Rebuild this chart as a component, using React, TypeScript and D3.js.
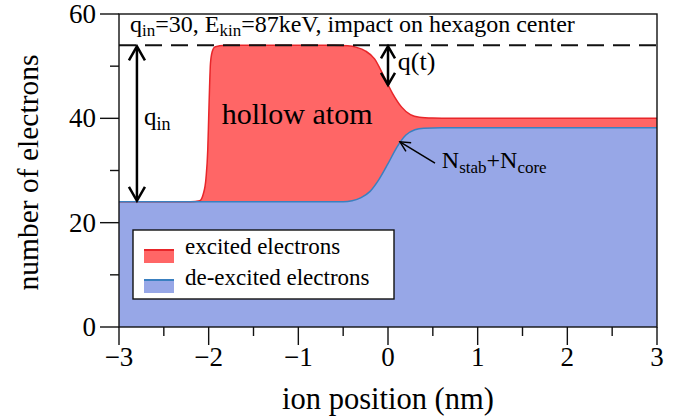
import React from "react";
import * as d3 from "d3";

const width = 688;
const height = 418;
const margin = { top: 14, right: 31, bottom: 91, left: 119 };

// ion position (nm) sample points and electron counts
const redPos = [-3, -2.2, -2.1, -2.06, -2.03, -2.01, -2.0, -1.99, -1.98, -1.96, -1.93, -1.88, -1.8, -0.6, -0.45, -0.35, -0.25, -0.15, -0.05, 0.05, 0.15, 0.25, 0.35, 0.5, 0.7, 3];
const redVals = [24, 24, 24.2, 25.5, 28.5, 34, 40, 46, 50.5, 52.8, 53.7, 53.9, 54, 54, 53.9, 53.6, 52.9, 51.4, 48.2, 44.8, 42.2, 40.7, 40.2, 40.05, 40, 40];

const bluePos = [-3, -0.5, -0.4, -0.3, -0.2, -0.1, 0, 0.1, 0.2, 0.3, 0.4, 0.6, 3];
const blueVals = [24, 24, 24.2, 24.8, 26, 28.3, 31.3, 34.5, 36.8, 37.8, 38.1, 38.2, 38.2];

const qIn = 54;
const qStart = 24;

const xMajor = [-3, -2, -1, 0, 1, 2, 3];
const xMinor = [-2.5, -1.5, -0.5, 0.5, 1.5, 2.5];
const yMajor = [0, 20, 40, 60];
const yMinor = [10, 30, 50];

const redFill = "#ff6666";
const redLine = "#e8262a";
const blueFill = "#97a7e7";
const blueLine = "#3a80c0";

const x = d3.scaleLinear().domain([-3, 3]).range([margin.left, width - margin.right]);
const y = d3.scaleLinear().domain([0, 60]).range([height - margin.bottom, margin.top]);

const redData = redPos.map((p, i) => ({ p, v: redVals[i] }));
const blueData = bluePos.map((p, i) => ({ p, v: blueVals[i] }));

const area = d3.area<{ p: number; v: number }>()
  .x(d => x(d.p)).y0(y(0)).y1(d => y(d.v)).curve(d3.curveMonotoneX);
const line = d3.line<{ p: number; v: number }>()
  .x(d => x(d.p)).y(d => y(d.v)).curve(d3.curveMonotoneX);

// chevron head at (tx,ty) pointing away from (fx,fy)
function head(tx: number, ty: number, fx: number, fy: number, len: number, half: number) {
  const a = Math.atan2(ty - fy, tx - fx);
  const bx = tx - len * Math.cos(a), by = ty - len * Math.sin(a);
  const nx = -Math.sin(a) * half, ny = Math.cos(a) * half;
  return `M${bx + nx},${by + ny}L${tx},${ty}L${bx - nx},${by - ny}`;
}

function T(props: any) {
  const { style, ...rest } = props;
  return <text fontFamily="Liberation Serif" style={{ fontFamily: "'Liberation Serif'", ...style }} {...rest} />;
}

export default function App() {
  const x0 = x(-3), x1 = x(3), yb = y(0), yt = y(60);
  const ax = x(-2.8);
  const qx = x(0);
  const nFrom = [x(0.524), y(31.4)];
  const nTo = [x(0.134), y(35.5)];
  const lg = { x: 133, y: 230, w: 261, h: 69 };

  return (
    <svg width={width} height={height} style={{ position: "absolute", left: 0, top: 0 }}>
      <style>{"text, tspan { font-family: 'Liberation Serif' !important; }"}</style>
      <defs>
        <clipPath id="plot"><rect x={x0} y={yt} width={x1 - x0} height={yb - yt} /></clipPath>
      </defs>
      <g clipPath="url(#plot)">
        <path d={area(redData) ?? ""} fill={redFill} />
        <path d={area(blueData) ?? ""} fill={blueFill} />
        <path d={line(redData) ?? ""} fill="none" stroke={redLine} strokeWidth={1.5} />
        <path d={line(blueData) ?? ""} fill="none" stroke={blueLine} strokeWidth={1.5} />
        <line x1={x0} x2={x1} y1={y(qIn)} y2={y(qIn)} stroke="#111" strokeWidth={2} strokeDasharray="17 9" />
      </g>

      {/* frame */}
      <rect x={x0} y={yt} width={x1 - x0} height={yb - yt} fill="none" stroke="#111" strokeWidth={1.4} />

      {/* x axis */}
      {xMajor.map(t => (
        <g key={"xm" + t}>
          <line x1={x(t)} x2={x(t)} y1={yb} y2={yb + 18} stroke="#111" strokeWidth={1.4} />
          <T x={x(t)} y={yb + 39} fontSize={27} textAnchor="middle">{t < 0 ? "\u2212" + Math.abs(t) : t}</T>
        </g>
      ))}
      {xMinor.map(t => (
        <line key={"xn" + t} x1={x(t)} x2={x(t)} y1={yb} y2={yb + 9} stroke="#111" strokeWidth={1.4} />
      ))}
      <T x={(x0 + x1) / 2} y={height - 9} fontSize={30.5} textAnchor="middle">ion position (nm)</T>

      {/* y axis */}
      {yMajor.map(t => (
        <g key={"ym" + t}>
          <line x1={x0 - 19} x2={x0} y1={y(t)} y2={y(t)} stroke="#111" strokeWidth={1.4} />
          <T x={x0 - 23} y={y(t) + 9} fontSize={27} textAnchor="end">{t}</T>
        </g>
      ))}
      {yMinor.map(t => (
        <line key={"yn" + t} x1={x0 - 9} x2={x0} y1={y(t)} y2={y(t)} stroke="#111" strokeWidth={1.4} />
      ))}
      <T transform={`translate(38,${(yt + yb) / 2 + 2}) rotate(-90)`} fontSize={29.5} textAnchor="middle">number of electrons</T>

      {/* top note */}
      <T x={x0 + 11} y={yt + 18} fontSize={24}>
        q<tspan fontSize={17} dy={4}>in</tspan><tspan dy={-4}>=30, E</tspan><tspan fontSize={17} dy={4}>kin</tspan><tspan dy={-4}>=87keV, impact on hexagon center</tspan>
      </T>

      {/* q_in and q(t) arrows */}
      <g stroke="#000" strokeWidth={2.5} fill="none" strokeLinejoin="miter">
        <line x1={ax} x2={ax} y1={y(qIn) + 2} y2={y(qStart) - 2} />
        <path d={head(ax, y(qIn) + 1, ax, y(qStart), 14, 8)} />
        <path d={head(ax, y(qStart) - 1, ax, y(qIn), 14, 8)} />
        <line x1={qx} x2={qx} y1={y(qIn) + 2} y2={y(46.4)} />
        <path d={head(qx, y(qIn) + 1, qx, y(46.4), 12, 7)} />
        <path d={head(qx, y(46.4), qx, y(qIn), 12, 7)} />
      </g>
      <T x={x(-2.72)} y={y(38.7)} fontSize={25}>
        q<tspan fontSize={18} dy={5}>in</tspan>
      </T>
      <T x={x(0.11)} y={y(49.3)} fontSize={26}>q(t)</T>

      <T x={x(-1.855)} y={y(39)} fontSize={30}>hollow atom</T>

      {/* N arrow */}
      <g stroke="#000" strokeWidth={1.5} fill="none">
        <line x1={nFrom[0]} y1={nFrom[1]} x2={nTo[0]} y2={nTo[1]} />
        <path d={head(nTo[0], nTo[1], nFrom[0], nFrom[1], 10, 5)} />
      </g>
      <T x={x(0.6)} y={y(30.5)} fontSize={24}>
        N<tspan fontSize={17} dy={5}>stab</tspan><tspan dy={-5}>+N</tspan><tspan fontSize={17} dy={5}>core</tspan>
      </T>

      {/* legend */}
      <rect x={lg.x} y={lg.y} width={lg.w} height={lg.h} fill="#fff" stroke="#111" strokeWidth={1.4} />
      <rect x={lg.x + 11} y={lg.y + 19} width={30} height={14} fill={redFill} />
      <line x1={lg.x + 11} x2={lg.x + 41} y1={lg.y + 20} y2={lg.y + 20} stroke={redLine} strokeWidth={2} />
      <T x={lg.x + 52} y={lg.y + 24} fontSize={23}>excited electrons</T>
      <rect x={lg.x + 11} y={lg.y + 49} width={30} height={14} fill={blueFill} />
      <line x1={lg.x + 11} x2={lg.x + 41} y1={lg.y + 50} y2={lg.y + 50} stroke={blueLine} strokeWidth={2} />
      <T x={lg.x + 52} y={lg.y + 55} fontSize={23}>de-excited electrons</T>
    </svg>
  );
}
